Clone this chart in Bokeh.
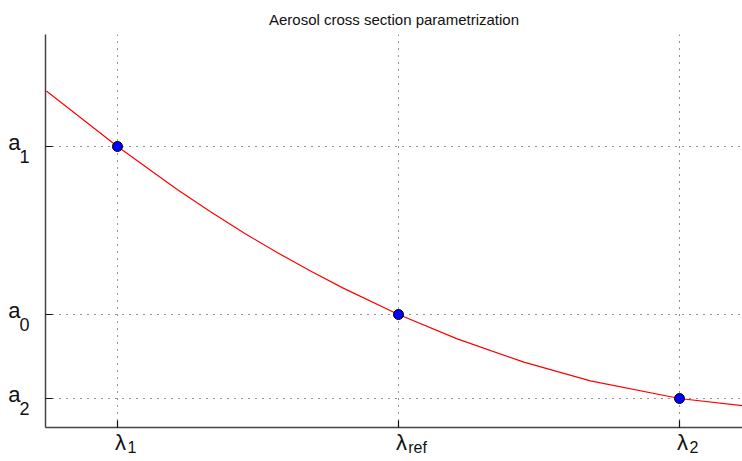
from bokeh.plotting import figure
from bokeh.models import Range1d, FixedTicker, LinearAxis
from bokeh.embed import file_html
from bokeh.resources import INLINE

# ---- data ----
lam_ticks = [1.0, 2.0, 3.0]          # lambda_1, lambda_ref, lambda_2
lam_subs = ["1", "ref", "2"]
a_ticks = [4.0, 2.0, 1.0]            # a_1, a_0, a_2
a_subs = ["1", "0", "2"]

point_x = [1.0, 2.0, 3.0]
point_y = [4.0, 2.0, 1.0]

curve_x = [0.747, 1.0, 1.2125, 1.331, 1.449, 1.568, 1.687, 1.805, 2.0,
           2.209, 2.446, 2.683, 3.0, 3.223]
curve_y = [4.660, 4.0, 3.488, 3.222, 2.972, 2.738, 2.517, 2.311, 2.0,
           1.710, 1.433, 1.210, 1.0, 0.914]

title_text = "Aerosol cross section parametrization"

# ---- layout ----
W, H = 742, 461
LEFT, TOP, BOTTOM = 45, 34, 34
X0, X1 = 0.7438, 3.2242
Y0, Y1 = 0.6548, 5.333
FONT = "Liberation Sans"
TXT = "#111111"
px_x = (X1 - X0) / (W - LEFT)          # data units per pixel
px_y = (Y1 - Y0) / (H - TOP - BOTTOM)

p = figure(width=W, height=H, output_backend="svg", toolbar_location=None,
           x_range=Range1d(X0, X1), y_range=Range1d(Y0, Y1),
           min_border_left=LEFT, min_border_right=0, min_border_top=TOP,
           min_border_bottom=BOTTOM)
p.outline_line_color = None
p.background_fill_color = "white"

p.title.text = title_text
p.title.align = "center"
p.title.text_font = FONT
p.title.text_font_style = "normal"
p.title.text_font_size = "15px"
p.title.text_color = TXT
p.title.standoff = 13
p.title.offset = 3

# label-carrying helper ranges (shift labels relative to their ticks)
p.extra_x_ranges = {
    "xmain": Range1d(X0 - 3 * px_x, X1 - 3 * px_x),
    "xsub": Range1d(X0 - 19 * px_x, X1 - 19 * px_x),
}
p.extra_y_ranges = {
    "ymain": Range1d(Y0 - 4.3 * px_y, Y1 - 4.3 * px_y),
    "ysub": Range1d(Y0 + 10 * px_y, Y1 + 10 * px_y),
}

# main axes: tick marks, axis line, grid
for ax, ticks in ((p.xaxis[0], lam_ticks), (p.yaxis[0], a_ticks)):
    ax.ticker = FixedTicker(ticks=ticks)
    ax.major_label_overrides = {t: "" for t in ticks}
    ax.major_label_text_font_size = "1px"
    ax.major_label_standoff = 0
    ax.major_tick_in = 7
    ax.major_tick_out = 0
    ax.minor_tick_line_color = None
    ax.major_tick_line_color = "#111111"
    ax.major_tick_line_width = 1.2
    ax.axis_line_color = "#444444"
    ax.axis_line_width = 1.5


def label_axis(ticks, texts, size, standoff, **kw):
    return LinearAxis(ticker=FixedTicker(ticks=ticks),
                      major_label_overrides=dict(zip(ticks, texts)),
                      major_label_text_font=FONT,
                      major_label_text_font_size=size,
                      major_label_text_color=TXT,
                      major_label_standoff=standoff,
                      major_tick_in=0, major_tick_out=0,
                      minor_tick_in=0, minor_tick_out=0,
                      axis_line_color=None, major_tick_line_color=None,
                      minor_tick_line_color=None, **kw)


pad = "\u2007"
x_sub_texts = [s if len(s) > 1 else s + pad for s in lam_subs]
p.add_layout(label_axis(lam_ticks, ["λ"] * len(lam_ticks), "22px", 2,
                        x_range_name="xmain"), "below")
p.add_layout(label_axis(lam_ticks, x_sub_texts, "16px", -19,
                        x_range_name="xsub"), "below")
p.add_layout(label_axis(a_ticks, a_subs, "18px", 16,
                        y_range_name="ysub"), "left")
p.add_layout(label_axis(a_ticks, ["a"] * len(a_ticks), "22px", -4,
                        y_range_name="ymain"), "left")

for g in (p.xgrid[0], p.ygrid[0]):
    g.grid_line_color = "#000000"
    g.grid_line_alpha = 0.85
    g.grid_line_dash = "1 6"
    g.grid_line_width = 1

p.line(curve_x, curve_y, line_color="#ff0000", line_width=1.2)
p.scatter(point_x, point_y, size=10, fill_color="#0000ff",
          line_color="#000000", line_width=1)

open("out.html", "w").write(file_html(p, INLINE))
